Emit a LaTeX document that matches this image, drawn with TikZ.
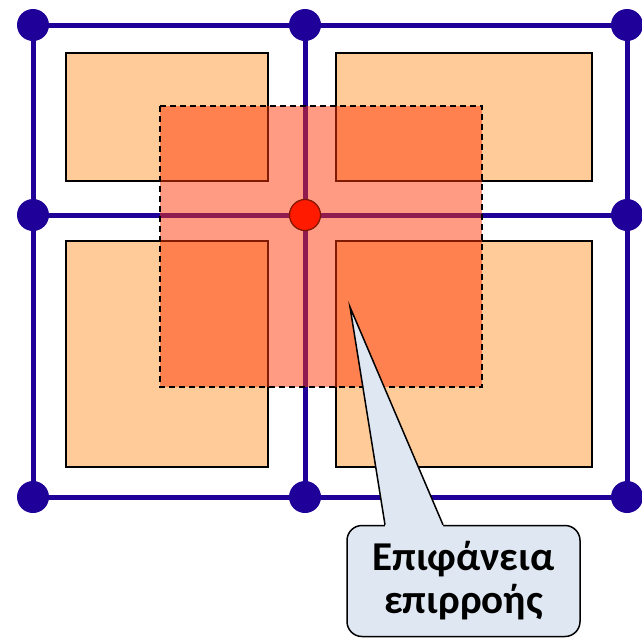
\documentclass[tikz,border=0pt]{standalone}
\usepackage{fontspec}
\setmainfont{Carlito}
\definecolor{gridblue}{RGB}{31,0,153}
\definecolor{peach}{RGB}{255,204,153}
\definecolor{overlay}{RGB}{255,55,6}
\definecolor{reddot}{RGB}{255,26,0}
\definecolor{reddotb}{RGB}{128,20,0}
\definecolor{callfill}{RGB}{223,231,242}
\begin{document}
\begin{tikzpicture}[x=1pt,y=-1pt,
  gridline/.style={draw=gridblue,line width=5pt},
  gdot/.style={circle,fill=gridblue,minimum size=32pt,inner sep=0pt},
  cell/.style={draw=black,fill=peach,line width=1.5pt},
  zone/.style={draw=black,dashed,dash pattern=on 6pt off 4pt,line width=1.3pt,fill=overlay,fill opacity=0.5},
  cdot/.style={circle,fill=reddot,draw=reddotb,line width=1.2pt,minimum size=31pt,inner sep=0pt},
  callbox/.style={draw=black,fill=callfill,line width=1.5pt,rounded corners=15pt,minimum width=233pt,minimum height=111pt,align=center,font=\fontsize{41}{43}\selectfont\bfseries,inner sep=0pt}]
\useasboundingbox (0,0) rectangle (642,638);
% grid coordinates
\coordinate (tl) at (33,25);
\coordinate (tm) at (305,25);
\coordinate (tr) at (627,25);
\coordinate (ml) at (33,215);
\coordinate (mm) at (305,215);
\coordinate (mr) at (627,215);
\coordinate (bl) at (33,497);
\coordinate (bm) at (305,497);
\coordinate (br) at (627,497);
% grid lines
\draw[gridline] (tl) -- (tr) (ml) -- (mr) (bl) -- (br);
\draw[gridline] (tl) -- (bl) (tm) -- (bm) (tr) -- (br);
% cells
\draw[cell] (66,53) rectangle (268,181);
\draw[cell] (336,53) rectangle (592,181);
\draw[cell] (66,241) rectangle (268,467);
\draw[cell] (336,241) rectangle (592,467);
% grid dots
\foreach \p in {tl,tm,tr,ml,mr,bl,bm,br} \node[gdot] (d\p) at (\p) {};
% influence zone
\draw[zone] (160,106) rectangle (482,387);
\node[cdot] (center) at (mm) {};
% callout
\node[callbox] (callout) at (463.5,581) {Επιφάνεια\\επιρροής};
\coordinate (tip) at (350,307);
\coordinate (b1) at ([xshift=-78.5pt]callout.north);
\coordinate (b2) at ([xshift=-20.5pt]callout.north);
\fill[callfill] (b1) -- (tip) -- (b2) -- ([yshift=-4pt]b2) -- ([yshift=-4pt]b1) -- cycle;
\draw[black,line width=1.5pt,line join=miter] (b1) -- (tip) -- (b2);
\end{tikzpicture}
\end{document}
